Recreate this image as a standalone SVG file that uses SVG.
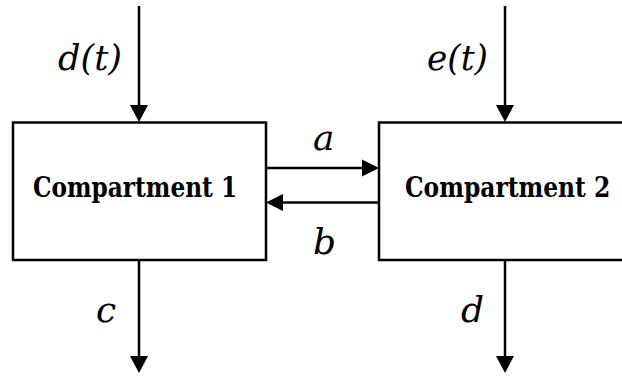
<svg xmlns="http://www.w3.org/2000/svg" width="622" height="378" viewBox="0 0 622 378">
<style>
.box{fill:#fff;stroke:#000;stroke-width:2.5}
.ln{stroke:#000;stroke-width:2.5;fill:none}
.ah{fill:#000;stroke:none}
.lbl{font-family:"DejaVu Serif","Liberation Serif",serif;font-style:italic;font-size:36px;fill:#000}
.nm{font-family:"DejaVu Serif","Liberation Serif",serif;font-weight:bold;font-size:28px;fill:#000}
</style>
<rect width="622" height="378" fill="#fff"/>
<g id="compartment1">
<rect class="box" x="13" y="122.5" width="253" height="137.5"/>
<text class="nm" transform="translate(33,197) scale(0.83,1)" x="0" y="0">Compartment 1</text>
</g>
<g id="compartment2">
<path class="box" d="M622,122.5 H379 V260 H622"/>
<text class="nm" transform="translate(405,197) scale(0.835,1)" x="0" y="0">Compartment 2</text>
</g>
<g id="connectors">
<line class="ln" x1="139" y1="6" x2="139" y2="106"/>
<polygon class="ah" points="130,105 148,105 139,122"/>
<line class="ln" x1="505" y1="6" x2="505" y2="106"/>
<polygon class="ah" points="496,105 514,105 505,122"/>
<line class="ln" x1="266" y1="168" x2="363" y2="168"/>
<polygon class="ah" points="362,159.5 362,176.5 379,168"/>
<line class="ln" x1="379" y1="202.5" x2="282" y2="202.5"/>
<polygon class="ah" points="283,194 283,211 266,202.5"/>
<line class="ln" x1="139" y1="260" x2="139" y2="357"/>
<polygon class="ah" points="130,356 148,356 139,373"/>
<line class="ln" x1="505" y1="260" x2="505" y2="357"/>
<polygon class="ah" points="496,356 514,356 505,373"/>
</g>
<g id="labels">
<text class="lbl" x="58" y="70" textLength="64" lengthAdjust="spacingAndGlyphs">d(t)</text>
<text class="lbl" x="427" y="70" textLength="61" lengthAdjust="spacingAndGlyphs">e(t)</text>
<text class="lbl" x="313" y="150">a</text>
<text class="lbl" x="313" y="254">b</text>
<text class="lbl" x="96" y="322">c</text>
<text class="lbl" x="461" y="322">d</text>
</g>
</svg>
